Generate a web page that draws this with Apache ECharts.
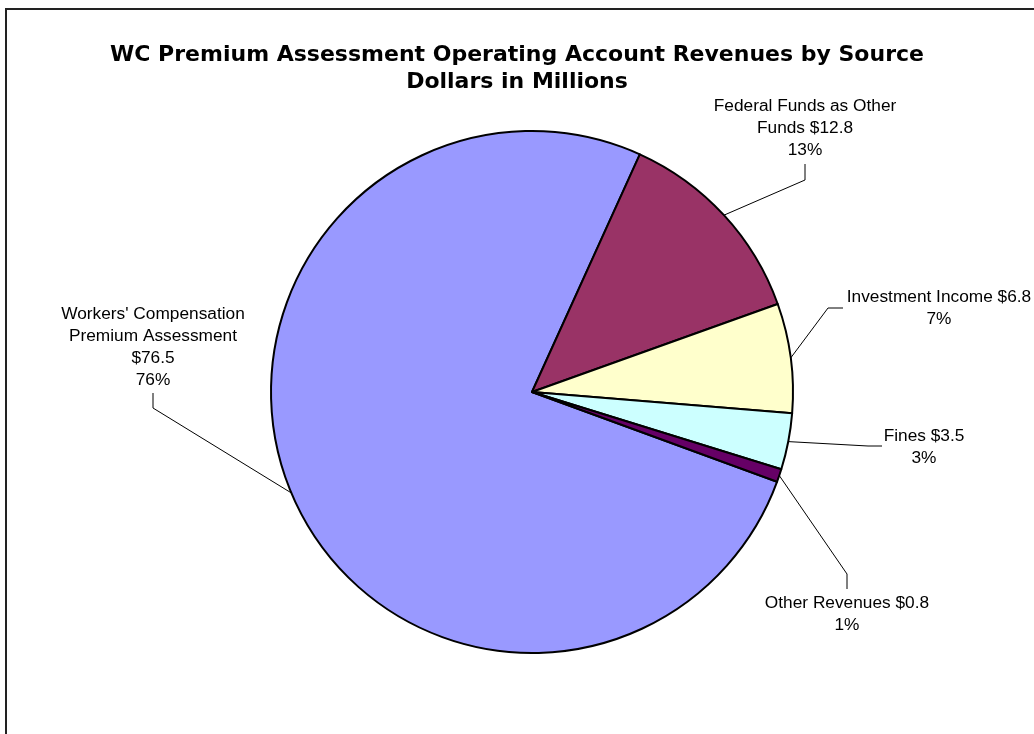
<!DOCTYPE html>
<html>
<head>
<meta charset="utf-8">
<script src="https://cdn.jsdelivr.net/npm/echarts@6/dist/echarts.min.js"></script>
<style>
html,body{margin:0;padding:0;background:#fff;}
#chart{width:1034px;height:734px;}
</style>
</head>
<body>
<div id="chart"></div>
<script>
// Data
const categories = [
  "Workers' Compensation\nPremium Assessment",
  "Federal Funds as Other\nFunds",
  "Investment Income",
  "Fines",
  "Other Revenues"
];
const values = [76.5, 12.8, 6.8, 3.5, 0.8];
const colors = ['#9999FF', '#993366', '#FFFFCC', '#CCFFFF', '#660066'];
// label anchor positions (text centre, px)
const labelPos = [
  [153, 347],
  [805, 128],
  [939, 308],
  [924, 447],
  [847, 614]
];
// leader line: bend point and end point near each label (px)
const leaderBend = [[153, 408], [805, 180], [828, 308], [868, 446], [847, 574]];
const leaderEnd  = [[153, 393], [805, 164], [843, 308], [882, 446], [847, 589]];

const chart = echarts.init(document.getElementById('chart'), null, {renderer: 'canvas'});
const option = {
  backgroundColor: '#ffffff',
  animation: false,
  title: {
    text: 'WC Premium Assessment Operating Account Revenues by Source\nDollars in Millions',
    left: 'center',
    top: 37,
    textStyle: {
      fontFamily: 'DejaVu Sans',
      fontWeight: 'bold',
      fontSize: 22,
      lineHeight: 27,
      color: '#000'
    }
  },
  graphic: [{
    type: 'rect',
    shape: {x: 6, y: 9, width: 1200, height: 900},
    style: {fill: 'none', stroke: '#222', lineWidth: 2},
    silent: true,
    z: -1
  }],
  series: [{
    type: 'pie',
    center: [532, 392],
    radius: [0, 261],
    startAngle: -20.1,
    clockwise: true,
    avoidLabelOverlap: false,
    data: categories.map((c, i) => ({
      name: c,
      value: values[i],
      itemStyle: {color: colors[i]}
    })),
    itemStyle: {borderColor: '#000', borderWidth: 2},
    label: {
      show: true,
      position: 'outside',
      color: '#000',
      fontFamily: 'Liberation Sans',
      fontSize: 17.3,
      lineHeight: 22,
      align: 'center',
      formatter: function (p) {
        const nm = p.name;
        const sep = (p.dataIndex === 0) ? '\n' : ' ';
        return nm + sep + '$' + p.value.toFixed(1) + '\n' + Math.round(p.percent) + '%';
      }
    },
    labelLine: {
      show: true,
      length: 10,
      length2: 10,
      lineStyle: {color: '#000', width: 1}
    },
    labelLayout: function (params) {
      const i = params.dataIndex;
      const pos = labelPos[i];
      const out = {x: pos[0], y: pos[1], align: 'center', verticalAlign: 'middle'};
      if (params.labelLinePoints && params.labelLinePoints.length) {
        const start = params.labelLinePoints[0];
        out.labelLinePoints = [[start[0], start[1]], leaderBend[i], leaderEnd[i]];
      }
      return out;
    },
    emphasis: {disabled: true}
  }]
};
chart.setOption(option);
</script>
</body>
</html>
